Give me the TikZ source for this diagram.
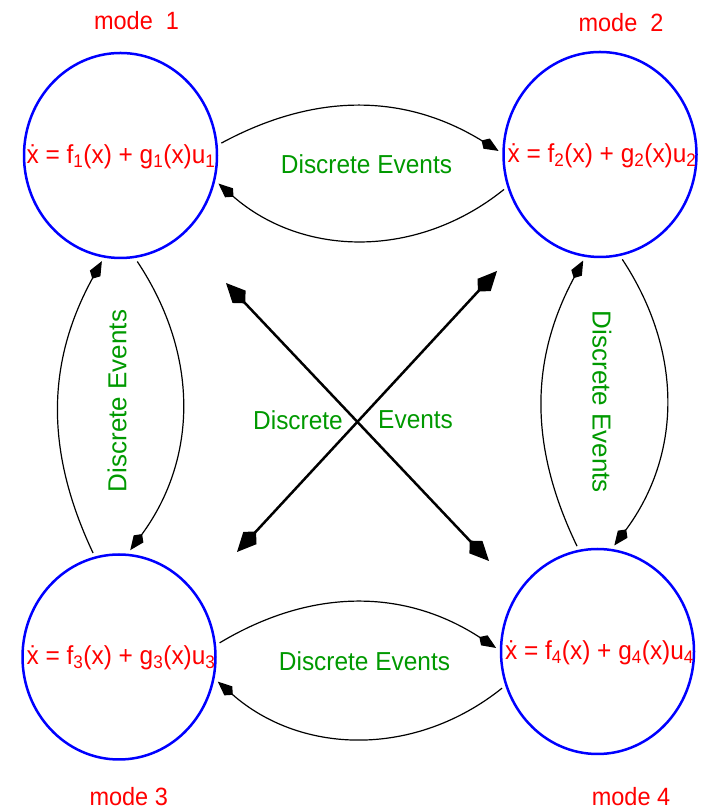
\documentclass[tikz,border=0pt]{standalone}
\usepackage{fontspec}
\setmainfont{Liberation Sans}[FakeStretch=0.94]
\newfontfamily\plainsans{Liberation Sans}
\usetikzlibrary{arrows.meta,shapes.geometric}
\definecolor{evgreen}{RGB}{0,153,0}
\definecolor{modeblue}{RGB}{0,0,255}
\definecolor{modered}{RGB}{255,0,0}
\begin{document}
\begin{tikzpicture}[x=1pt,y=1pt,
  modecirc/.style={ellipse, draw=modeblue, line width=2.5pt, inner sep=0pt,
    outer sep=5pt, minimum width=193pt, minimum height=205pt},
  eqtext/.style={text=modered, inner sep=0pt, font=\fontsize{26}{30}\selectfont},
  modelabel/.style={text=modered, inner sep=0pt, font=\fontsize{25}{30}\selectfont},
  evtext/.style={text=evgreen, inner sep=0pt, font=\fontsize{26}{30}\selectfont},
  evvert/.style={text=evgreen, inner sep=0pt, font=\plainsans\fontsize{26}{30}\selectfont},
  conn/.style={-{Kite[length=20pt,width=12pt,inset=6pt]}, line width=1.2pt},
  diag/.style={{Kite[length=28pt,width=18pt,inset=9pt]}-{Kite[length=28pt,width=18pt,inset=9pt]}, line width=2.5pt}
]
\useasboundingbox (0,0) rectangle (708,810);

% modes
\node[modecirc] (c1) at (120.5,654.5) {};
\node[modecirc] (c2) at (600,655.5) {};
\node[modecirc] (c3) at (119,153) {};
\node[modecirc] (c4) at (597.5,158.5) {};

\node[eqtext] (e1) at (121,653) {\.{x} = f\textsubscript{1}(x) + g\textsubscript{1}(x)u\textsubscript{1}};
\node[eqtext] (e2) at (602,654) {\.{x} = f\textsubscript{2}(x) + g\textsubscript{2}(x)u\textsubscript{2}};
\node[eqtext] (e3) at (121,152) {\.{x} = f\textsubscript{3}(x) + g\textsubscript{3}(x)u\textsubscript{3}};
\node[eqtext] (e4) at (599.5,157) {\.{x} = f\textsubscript{4}(x) + g\textsubscript{4}(x)u\textsubscript{4}};

\node[modelabel] (m1) at (136.5,789) {mode\ \ 1};
\node[modelabel] (m2) at (621,787) {mode\ \ 2};
\node[modelabel] (m3) at (128.7,13) {mode 3};
\node[modelabel] (m4) at (631,13) {mode 4};

% event labels
\node[evtext] (t12) at (366.5,646) {Discrete Events};
\node[evtext] (t34) at (364.5,149) {Discrete Events};
\node[evtext] (tcl) at (298,390) {Discrete};
\node[evtext] (tcr) at (415.6,390) {Events};
\node[evvert, rotate=90] (t13) at (117,409) {Discrete Events};
\node[evvert, rotate=-90] (t24) at (602,408) {Discrete Events};

% curved transitions
\draw[conn] (c1.7) to[bend left=30] (c2.178.6);
\draw[conn] (c2.-160) to[bend left=40] (c1.-16);
\draw[conn] (c3.8.8) to[bend left=32] (c4.178);
\draw[conn] (c4.-159) to[bend left=40] (c3.-14.7);
\draw[conn] (c3.104) to[bend left=27] (c1.-100.7);
\draw[conn] (c1.-81) to[bend left=35] (c3.84);
\draw[conn] (c4.101) to[bend left=27] (c2.-99);
\draw[conn] (c2.-78.5) to[bend left=35] (c4.81.5);

% diagonal transitions
\coordinate (dA) at (226,527);
\coordinate (dB) at (489,249);
\coordinate (dC) at (237,258);
\coordinate (dD) at (497,539);
\draw[diag] (dA) -- (dB);
\draw[diag] (dC) -- (dD);
\end{tikzpicture}
\end{document}
